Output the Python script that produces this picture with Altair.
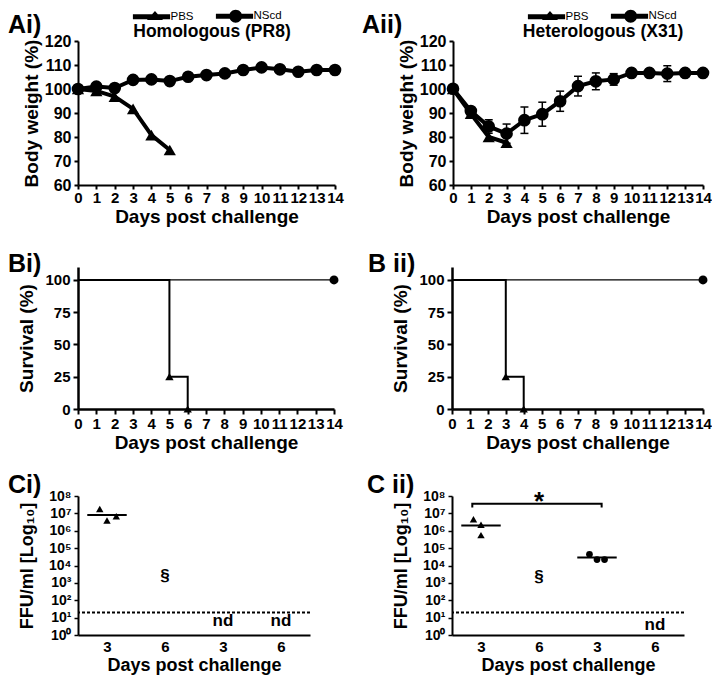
import json
import altair as alt
import pandas as pd

FONT = "Liberation Sans"
BLACK = "black"

# ---------------- data ----------------
days = list(range(15))

# A: body weight (%)
ai_pbs_days = [0, 1, 2, 3, 4, 5]
ai_pbs_weight = [100, 99.2, 96.8, 91.7, 80.8, 74.6]
ai_nscd_weight = [100, 101.0, 100.4, 103.8, 104.0, 103.3, 105.1, 105.8, 106.5,
                  107.9, 109.0, 108.2, 107.2, 107.9, 107.9]

aii_pbs_days = [0, 1, 2, 3]
aii_pbs_weight = [100, 89.7, 80.0, 77.6]
aii_nscd_weight = [100.1, 90.8, 84.4, 81.4, 87.0, 89.5, 94.9, 101.2, 103.2,
                   104.0, 106.7, 106.7, 106.4, 106.7, 106.7]
aii_nscd_sem = [0.5, 1.2, 2.8, 4.0, 5.5, 5.0, 4.2, 4.1, 3.5, 2.4, 1.5, 1.5, 3.3, 1.5, 1.5]
weight_ticks = [60, 70, 80, 90, 100, 110, 120]

# B: survival (%)
bi_pbs_days = [0, 5, 6]
bii_pbs_days = [0, 3, 4]
pbs_survival = [100, 25, 0]
nscd_surv_days = [0, 14]
nscd_survival = [100, 100]
survival_ticks = [0, 25, 50, 75, 100]

# C: lung titres (FFU/ml)
c_groups = [1, 2, 3, 4]
c_group_labels = ["3", "6", "3", "6"]
ci_pbs_x = [0.875, 1.0, 1.16]
ci_pbs_ffu = [1.8e7, 3.9e6, 6.8e6]
ci_pbs_median = 8.0e6
cii_pbs_x = [0.87, 1.0, 1.0]
cii_pbs_ffu = [4.6e6, 2.2e6, 5.6e5]
cii_pbs_median = 2.0e6
cii_nscd_x = [2.87, 3.0, 3.13]
cii_nscd_ffu = [4.4e4, 2.2e4, 2.2e4]
cii_nscd_median = 2.9e4
detection_limit = 20
log_ticks = [1, 10, 100, 1e3, 1e4, 1e5, 1e6, 1e7, 1e8]
log_tick_labels = ["10⁰", "10¹", "10²", "10³", "10⁴", "10⁵", "10⁶", "10⁷", "10⁸"]

ci_note_x = [2, 3, 4]
ci_note_y = [2.5e3, 6, 6]
ci_note_text = ["§", "nd", "nd"]
cii_note_x = [2, 4]
cii_note_y = [2.1e3, 3.6]
cii_note_text = ["§", "nd"]
cii_bracket_x = [0.85, 0.85, 3.08, 3.08]
cii_bracket_y = [2.2e7, 3.6e7, 3.6e7, 2.2e7]
cii_star_x = [2]
cii_star_y = [1.5e7]

# legend glyphs: thick line with marker (custom symbol paths)
PBS_SYMBOL = "M-3.1,-0.42L3.1,-0.42L3.1,0.42L-3.1,0.42Z M0.58,-0.95L1.91,0.55L-0.75,0.55Z"
NSCD_SYMBOL = ("M-3.1,-0.42L3.1,-0.42L3.1,0.42L-3.1,0.42Z "
               "M-0.88,0A1.08,1.08 0 1,1 1.28,0A1.08,1.08 0 1,1 -0.88,0Z")


def axis(title, values, label_size, domain_width, tick_size, tick_width,
         label_padding, title_padding, title_size=19, **kw):
    return alt.Axis(title=title, values=values, grid=False, labelOverlap=False,
                    labelFlush=False, labelFont=FONT, labelFontSize=label_size,
                    labelFontWeight="bold", labelColor=BLACK, titleFont=FONT,
                    titleFontSize=title_size, titleFontWeight="bold", titleColor=BLACK,
                    domainColor=BLACK, domainWidth=domain_width, tickColor=BLACK,
                    tickSize=tick_size, tickWidth=tick_width,
                    labelPadding=label_padding, titlePadding=title_padding, **kw)


def text_layer(text, x, y, size, align="left", baseline="top"):
    return alt.Chart(pd.DataFrame({"t": [text]})).mark_text(
        font=FONT, fontSize=size, fontWeight="bold", color=BLACK,
        align=align, baseline=baseline).encode(
        text="t:N", x=alt.value(x), y=alt.value(y))


def weight_panel(label, label_x, title, title_x, pbs_days, pbs_w, nscd_w, nscd_sem,
                 width, legend_x):
    pbs = pd.DataFrame({"day": pbs_days, "weight": pbs_w})
    nscd = pd.DataFrame({"day": days, "weight": nscd_w})
    both = pd.concat([pbs.assign(group="PBS"), nscd.assign(group="NScd")])
    ysc = alt.Scale(domain=[60, 120], nice=False, zero=False)
    y_axis = axis("Body weight (%)", weight_ticks, 16, 2, 4, 2, 3, 3, format="d")
    xenc = alt.X("day:Q", scale=alt.Scale(domain=[0, 14], nice=False, zero=False),
                 axis=axis("Days post challenge", days, 15, 2, 4, 2, 1, 2.4, format="d"))
    yenc = alt.Y("weight:Q", scale=ysc, axis=y_axis)
    layers = []
    layers.append(alt.Chart(pbs).mark_line(color=BLACK, strokeWidth=4).encode(x=xenc, y=yenc))
    layers.append(alt.Chart(pbs).mark_point(shape="triangle-up", filled=True, size=150,
                                            color=BLACK, opacity=1).encode(x=xenc, y=yenc))
    if nscd_sem is not None:
        err = nscd.assign(lo=[w - s for w, s in zip(nscd_w, nscd_sem)],
                          hi=[w + s for w, s in zip(nscd_w, nscd_sem)])
        layers.append(alt.Chart(err).mark_rule(color=BLACK, strokeWidth=1.5).encode(
            x=xenc, y=alt.Y("lo:Q", scale=ysc, axis=y_axis), y2="hi:Q"))
        for f in ["lo", "hi"]:
            layers.append(alt.Chart(err).mark_tick(orient="horizontal", size=8, thickness=1.5,
                                                   color=BLACK, opacity=1).encode(
                x=xenc, y=alt.Y(f + ":Q", scale=ysc, axis=y_axis)))
    layers.append(alt.Chart(nscd).mark_line(color=BLACK, strokeWidth=4).encode(x=xenc, y=yenc))
    layers.append(alt.Chart(nscd).mark_point(shape="circle", filled=True, size=160,
                                             color=BLACK, opacity=1).encode(x=xenc, y=yenc))
    layers.append(alt.Chart(both).mark_point(filled=True, opacity=0, color=BLACK).encode(
        x=xenc, y=yenc,
        shape=alt.Shape("group:N",
                        scale=alt.Scale(domain=["PBS", "NScd"], range=[PBS_SYMBOL, NSCD_SYMBOL]),
                        legend=alt.Legend(title=None, orient="none", legendX=legend_x, legendY=-31,
                                          direction="horizontal", symbolSize=144,
                                          symbolFillColor=BLACK, symbolStrokeWidth=0,
                                          symbolOpacity=1, labelFont=FONT, labelFontSize=11.5,
                                          labelColor=BLACK, labelOffset=13, columnPadding=21,
                                          padding=0))))
    layers.append(text_layer(title, title_x, -4, 17.5, align="center", baseline="alphabetic"))
    layers.append(text_layer(label, label_x, -28.5, 25))
    return alt.layer(*layers).properties(width=width, height=144)


def survival_panel(label, label_x, pbs_days, width):
    pbs = pd.DataFrame({"day": pbs_days, "surv": pbs_survival})
    nscd = pd.DataFrame({"day": nscd_surv_days, "surv": nscd_survival})
    xenc = alt.X("day:Q", scale=alt.Scale(domain=[0, 14], nice=False, zero=False),
                 axis=axis("Days post challenge", days, 15, 2.5, 5, 2, 2, 2.4, format="d"))
    yenc = alt.Y("surv:Q", scale=alt.Scale(domain=[0, 110], nice=False, zero=False),
                 axis=axis("Survival (%)", survival_ticks, 15, 2.5, 5, 2, 3, 8, format="d"))
    layers = [
        alt.Chart(nscd).mark_line(color=BLACK, strokeWidth=1.3, interpolate="step-after").encode(x=xenc, y=yenc),
        alt.Chart(pbs).mark_line(color=BLACK, strokeWidth=2, interpolate="step-after").encode(x=xenc, y=yenc),
        alt.Chart(pbs).transform_filter("datum.day > 0").mark_point(
            shape="triangle-up", filled=True, size=70, color=BLACK, opacity=1).encode(x=xenc, y=yenc),
        alt.Chart(nscd).transform_filter("datum.day > 0").mark_point(
            shape="circle", filled=True, size=80, color=BLACK, opacity=1).encode(x=xenc, y=yenc),
        text_layer(label, label_x, -15, 25),
    ]
    return alt.layer(*layers).properties(width=width, height=142)


def titre_panel(label, label_x, groups, notes, bracket=None, star=None):
    x_axis = axis("Days post challenge", c_groups, 15, 2, 0, 0, 4, 2.3, title_size=18,
                  ticks=False, labelExpr=json.dumps(c_group_labels) + "[datum.value - 1]")
    y_axis = axis("FFU/ml [Log₁₀]", log_ticks, 14, 2, 4, 1.5, 3, 12, title_size=18,
                  labelExpr=json.dumps(log_tick_labels, ensure_ascii=False)
                  + "[round(log(datum.value) / LN10)]")
    xs = alt.Scale(domain=[0.5, 4.5], nice=False, zero=False)
    ys = alt.Scale(type="log", domain=[1, 1e8], nice=False)
    xenc = alt.X("x:Q", scale=xs, axis=x_axis)
    yenc = alt.Y("ffu:Q", scale=ys, axis=y_axis)
    layers = [alt.Chart(pd.DataFrame({"ffu": [detection_limit]})).mark_rule(
        color=BLACK, strokeWidth=2, strokeDash=[3, 2]).encode(y=yenc)]
    for px, ffu, median, center, shape, size in groups:
        med = pd.DataFrame({"x": [center], "ffu": [median]})
        layers.append(alt.Chart(med).transform_calculate(
            x1="datum.x - 0.34", x2="datum.x + 0.34").mark_rule(
            color=BLACK, strokeWidth=2).encode(
            x=alt.X("x1:Q", scale=xs, axis=x_axis), x2="x2:Q", y=yenc))
        layers.append(alt.Chart(pd.DataFrame({"x": px, "ffu": ffu})).mark_point(
            shape=shape, filled=True, size=size, color=BLACK, opacity=1).encode(x=xenc, y=yenc))
    nx, ny, nt = notes
    layers.append(alt.Chart(pd.DataFrame({"x": nx, "ffu": ny, "t": nt})).mark_text(
        font=FONT, fontSize=17, fontWeight="bold", color=BLACK, baseline="middle").encode(
        x=xenc, y=yenc, text="t:N"))
    if bracket is not None:
        bx, by = bracket
        layers.append(alt.Chart(pd.DataFrame({"x": bx, "ffu": by, "o": list(range(len(bx)))})).mark_line(
            color=BLACK, strokeWidth=2).encode(x=xenc, y=yenc, order="o:Q"))
    if star is not None:
        sx, sy = star
        layers.append(alt.Chart(pd.DataFrame({"x": sx, "ffu": sy, "t": ["*"] * len(sx)})).mark_text(
            font=FONT, fontSize=26, fontWeight="bold", color=BLACK, baseline="alphabetic").encode(
            x=xenc, y=yenc, text="t:N"))
    layers.append(text_layer(label, label_x, -23, 25))
    return alt.layer(*layers).properties(width=232, height=139)


ai = weight_panel("Ai)", -70, "Homologous (PR8)", 134, ai_pbs_days, ai_pbs_weight,
                  ai_nscd_weight, None, 257, 67.5)
aii = weight_panel("Aii)", -91, "Heterologous (X31)", 150, aii_pbs_days, aii_pbs_weight,
                   aii_nscd_weight, aii_nscd_sem, 250, 87.5)
bi = survival_panel("Bi)", -70, bi_pbs_days, 256)
bii = survival_panel("B ii)", -84, bii_pbs_days, 251)
ci = titre_panel("Ci)", -70,
                 [(ci_pbs_x, ci_pbs_ffu, ci_pbs_median, 1, "triangle-up", 55)],
                 (ci_note_x, ci_note_y, ci_note_text))
cii = titre_panel("C ii)", -85,
                  [(cii_pbs_x, cii_pbs_ffu, cii_pbs_median, 1, "triangle-up", 55),
                   (cii_nscd_x, cii_nscd_ffu, cii_nscd_median, 3, "circle", 45)],
                  (cii_note_x, cii_note_y, cii_note_text),
                  bracket=(cii_bracket_x, cii_bracket_y), star=(cii_star_x, cii_star_y))


def res(c):
    return c.resolve_scale(shape="independent").resolve_legend(shape="independent")


# with flush bounds nested rows count as zero height, so spacing = distance between row tops
row1 = res(alt.hconcat(ai, aii, spacing=118, bounds="flush"))
row2 = res(alt.hconcat(bi, bii, spacing=118, bounds="flush"))
row3 = res(alt.hconcat(ci, cii, spacing=142, bounds="flush"))
top = res(alt.vconcat(row1, row2, spacing=226, bounds="flush"))
chart = res(alt.vconcat(top, row3, spacing=455, bounds="flush")).properties(
    padding={"left": 0, "top": 2, "right": 0, "bottom": 0}
).configure_view(stroke=None)

chart.save("out.html", embed_options={"renderer": "svg", "actions": False})
